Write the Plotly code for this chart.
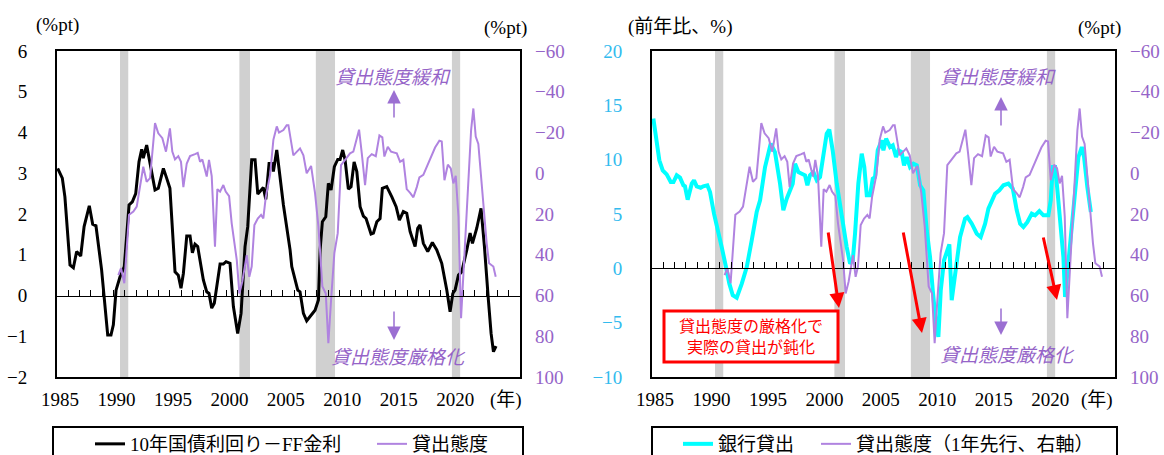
import plotly.graph_objects as go

FONT = "Liberation Serif, Noto Sans CJK JP"
PURPLE_LINE = "#B083E0"
PURPLE_TXT = "#9564C8"
CYAN = "#00FFFF"
CYAN_TXT = "#33BBEE"

# ---- data (decimal years) ----
spread_x = [1985.06, 1985.47, 1985.70, 1986.15, 1986.45, 1986.74, 1987.10, 1987.40, 1987.86, 1988.16,
            1988.45, 1988.95, 1989.49, 1989.78, 1989.99, 1990.23, 1990.58, 1990.96, 1991.38, 1991.67,
            1991.97, 1992.26, 1992.50, 1992.64, 1992.94, 1993.17, 1993.68, 1993.97, 1994.42, 1994.71,
            1995.00, 1995.45, 1995.74, 1995.98, 1996.19, 1996.49, 1996.78, 1996.99, 1997.22, 1997.46,
            1997.96, 1998.26, 1998.46, 1998.70, 1998.93, 1999.44, 1999.73, 1999.97, 2000.32, 2000.62,
            2001.00, 2001.30, 2001.65, 2001.89, 2002.24, 2002.54, 2002.78, 2003.27, 2003.49, 2003.78,
            2004.07, 2004.16, 2004.46, 2005.05, 2005.64, 2005.79, 2006.08, 2006.32, 2006.52, 2006.82,
            2007.11, 2007.41, 2007.85, 2008.15, 2008.30, 2008.50, 2008.80, 2009.03, 2009.27, 2009.56,
            2009.86, 2010.07, 2010.30, 2010.51, 2010.80, 2011.04, 2011.31, 2011.55, 2011.84, 2012.13,
            2012.37, 2012.81, 2013.02, 2013.32, 2013.61, 2013.81, 2014.20, 2014.65, 2015.03, 2015.32,
            2015.67, 2015.97, 2016.27, 2016.71, 2016.94, 2017.15, 2017.44, 2017.83, 2018.24, 2018.63,
            2019.07, 2019.52, 2019.81, 2020.05, 2020.25, 2020.55, 2020.84, 2021.29, 2021.58, 2021.79,
            2022.17, 2022.55, 2022.85, 2023.20, 2023.44, 2023.65, 2023.88]
spread_y = [3.12, 2.88, 2.42, 0.75, 0.68, 1.08, 0.97, 1.69, 2.20, 1.75,
            1.71, 0.63, -0.97, -0.97, -0.72, 0.13, 0.46, 0.71, 2.22, 2.30,
            2.50, 3.28, 3.59, 3.37, 3.69, 3.37, 2.59, 2.63, 3.12, 2.88,
            2.63, 0.58, 0.50, 0.18, 0.54, 1.46, 1.46, 1.05, 1.26, 1.20,
            0.38, 0.09, 0.05, -0.31, -0.19, 0.77, 0.77, 0.83, 0.79, -0.27,
            -0.93, -0.44, 1.20, 1.69, 3.33, 3.33, 2.49, 2.65, 2.36, 3.24,
            3.24, 3.04, 3.57, 2.22, 1.12, 0.71, 0.38, 0.13, 0.09, -0.44,
            -0.62, -0.52, -0.36, -0.11, 1.12, 1.81, 1.93, 2.75, 2.59, 3.16,
            3.34, 3.34, 3.57, 3.33, 2.61, 2.67, 3.28, 3.04, 2.18, 1.95,
            1.89, 1.51, 1.53, 1.81, 1.89, 2.63, 2.67, 2.42, 2.18, 1.85,
            2.06, 2.02, 1.57, 1.20, 1.65, 1.73, 1.28, 1.08, 1.30, 1.12,
            0.79, 0.13, -0.40, 0.05, 0.13, 0.50, 0.58, 1.12, 1.53, 1.28,
            1.65, 2.14, 1.20, -0.11, -0.93, -1.38, -1.24]

lending_x = [1990.43, 1990.67, 1990.96, 1991.17, 1991.38, 1991.76, 1992.06, 1992.35, 1992.64, 1992.94,
             1993.24, 1993.68, 1993.97, 1994.33, 1994.65, 1995.00, 1995.21, 1995.45, 1995.74, 1995.98,
             1996.19, 1996.49, 1996.78, 1997.22, 1997.46, 1997.67, 1997.87, 1998.26, 1998.46, 1998.70,
             1998.99, 1999.20, 1999.44, 1999.73, 1999.94, 2000.24, 2000.47, 2000.92, 2001.15, 2001.41,
             2001.80, 2002.03, 2002.24, 2002.48, 2002.78, 2003.07, 2003.27, 2003.49, 2003.87, 2004.16,
             2004.46, 2004.66, 2005.05, 2005.34, 2005.49, 2005.93, 2006.52, 2006.82, 2007.11, 2007.50,
             2007.85, 2008.15, 2008.50, 2008.80, 2009.03, 2009.27, 2009.56, 2009.86, 2010.15, 2010.51,
             2010.95, 2011.24, 2011.75, 2011.99, 2012.28, 2012.52, 2012.87, 2013.23, 2013.55, 2013.81,
             2013.99, 2014.29, 2014.58, 2015.09, 2015.38, 2015.67, 2015.97, 2016.27, 2016.56, 2016.86,
             2017.09, 2017.44, 2017.74, 2018.13, 2018.48, 2018.86, 2019.07, 2019.31, 2019.61, 2019.87,
             2020.10, 2020.31, 2020.55, 2020.78, 2021.08, 2021.37, 2021.67, 2021.87, 2022.08, 2022.31,
             2022.61, 2023.05, 2023.26, 2023.64, 2023.85]
lending_y = [50, 46.6, 54, 34.4, 20.4, 18.8, 16.4, 6.6, -3.2, 4.2,
             2.4, -24.6, -19.6, -17.2, -10.6, -22, -10.6, -6.8, -8.4, -5.6,
             6.8, -4.8, -8.4, -9.4, -10, -5.6, -6.8, 1.6, -6.6, 1.4,
             36, 7.8, 9, 5.8, 9, 11.2, 24.6, 42.6, 59, 53.2,
             40.2, 50.8, 45.8, 25.4, 22.2, 20.4, 22.2, 11.6, 0.8, -16.4,
             -23, -20, -21.2, -23.6, -23.6, -8.8, -12.2, -8.8, 0, -3.6,
             9.8, 26.2, 55.6, 59, 83.4, 62.2, 39.2, 29.4, -4, -6.6,
             -9.8, -10.6, -21.4, -9.8, 5.8, -7.4, -9.4, -8.4, -18.6, -17.6,
             -8.2, -13, -10.6, -9.8, -5.6, -6.6, 7.8, 9.6, 11.8, 6.8,
             2, 0.8, -3.2, -8.8, -12.6, -16, -15.6, 3.4, -4.2, -2.4,
             5, 1.2, 21.2, 71.2, 39.2, 5, -21.2, -31.8, -18, -14.4,
             6.6, 34.4, 44.2, 45.8, 50.8]
lead_years = 1.0

loans_x = [1985.12, 1985.35, 1985.65, 1985.95, 1986.30, 1986.66, 1986.90, 1987.19, 1987.48, 1987.78,
           1987.92, 1988.16, 1988.52, 1988.72, 1988.96, 1989.31, 1989.54, 1989.90, 1990.14, 1990.49,
           1990.87, 1991.17, 1991.55, 1991.85, 1992.15, 1992.50, 1992.95, 1993.39, 1993.83, 1994.27,
           1994.57, 1995.01, 1995.51, 1995.89, 1996.34, 1996.63, 1996.93, 1997.22, 1997.46, 1997.67,
           1997.96, 1998.26, 1998.55, 1998.76, 1998.99, 1999.29, 1999.59, 1999.88, 2000.17, 2000.47,
           2000.70, 2001.00, 2001.36, 2001.80, 2002.24, 2002.54, 2002.78, 2002.98, 2003.27, 2003.57,
           2003.80, 2004.02, 2004.31, 2004.55, 2004.75, 2004.99, 2005.34, 2005.49, 2005.73, 2006.08,
           2006.32, 2006.61, 2006.82, 2007.11, 2007.32, 2007.56, 2007.85, 2008.15, 2008.45, 2008.74,
           2009.03, 2009.33, 2009.62, 2009.86, 2010.15, 2010.36, 2010.57, 2010.86, 2011.33, 2011.54,
           2011.84, 2012.28, 2012.72, 2012.93, 2013.32, 2013.76, 2014.11, 2014.50, 2014.79, 2015.09,
           2015.38, 2015.76, 2016.12, 2016.56, 2016.95, 2017.30, 2017.60, 2017.89, 2018.24, 2018.63,
           2018.92, 2019.30, 2019.66, 2020.10, 2020.31, 2020.49, 2020.70, 2020.90, 2021.20, 2021.43,
           2021.58, 2021.79, 2022.09, 2022.38, 2022.76, 2023.06, 2023.26, 2023.55, 2023.86]
loans_y = [13.78, 11.78, 9.94, 9.02, 8.65, 7.94, 7.94, 8.56, 8.35, 7.64,
           7.55, 6.32, 7.79, 8.10, 7.55, 7.42, 7.55, 7.64, 7.02, 5.03,
           3.50, 1.96, 0.12, -1.41, -2.48, -2.70, -1.41, 0.12, 2.58, 5.18,
           6.26, 9.32, 11.47, 10.70, 7.79, 5.34, 6.41, 7.18, 7.79, 9.63,
           8.86, 8.71, 8.56, 7.64, 8.56, 8.86, 8.10, 8.40, 10.70, 12.39,
           12.76, 10.86, 7.79, 4.72, 1.96, 0.43, 0.74, 3.19, 7.79, 10.55,
           9.32, 6.72, 6.72, 8.25, 8.40, 10.86, 11.78, 10.86, 11.93, 11.16,
           11.32, 10.24, 10.86, 10.70, 9.48, 10.24, 9.32, 9.63, 9.48, 7.64,
           7.18, 3.50, 1.04, -2.02, -5.09, -6.32, -2.02, 0.74, 2.21, -2.94,
           -0.80, 2.88, 4.57, 4.72, 4.11, 3.19, 2.88, 4.11, 5.49, 6.26,
           6.87, 7.18, 7.64, 7.79, 7.33, 5.34, 4.11, 3.80, 4.26, 5.03,
           4.88, 5.27, 4.88, 4.88, 6.26, 9.32, 9.32, 7.18, 4.11, 1.04,
           -2.64, -0.49, 2.58, 6.26, 10.24, 11.16, 10.24, 7.48, 5.18]

recessions = [(1990.58, 1991.31), (2001.15, 2002.09), (2007.92, 2009.62), (2019.97, 2020.70)]
year_ticks = [1985, 1990, 1995, 2000, 2005, 2010, 2015, 2020]
x_range = [1985, 2026.0]

# ---- geometry helpers (pixel -> paper) ----
W, H = 1164, 455
ML, MR, MT, MB = 57, 49, 51, 78
PW = W - ML - MR
PH = H - MT - MB
def px(X):
    return (X - ML) / PW
def py(Y):
    return (H - MB - Y) / PH

fig = go.Figure()
# invisible helper traces so the zero-line axes are rendered
fig.add_trace(go.Scatter(x=[None], y=[None], xaxis="x3", yaxis="y", showlegend=False, hoverinfo="skip"))
fig.add_trace(go.Scatter(x=[None], y=[None], xaxis="x4", yaxis="y3", showlegend=False, hoverinfo="skip"))

fig.add_trace(go.Scatter(x=spread_x, y=spread_y, mode="lines", name="10年国債利回り－FF金利",
                         line=dict(color="black", width=3), xaxis="x", yaxis="y", legend="legend"))
fig.add_trace(go.Scatter(x=lending_x, y=lending_y, mode="lines", name="貸出態度",
                         line=dict(color=PURPLE_LINE, width=2), xaxis="x", yaxis="y2", legend="legend2"))
fig.add_trace(go.Scatter(x=loans_x, y=loans_y, mode="lines", name="銀行貸出",
                         line=dict(color=CYAN, width=4), xaxis="x2", yaxis="y3", legend="legend3"))
fig.add_trace(go.Scatter(x=[v + lead_years for v in lending_x], y=lending_y, mode="lines",
                         name="貸出態度（1年先行、右軸）",
                         line=dict(color=PURPLE_LINE, width=2), xaxis="x2", yaxis="y4", legend="legend4"))

shapes = []
for xr in ["x", "x2"]:
    yr = "y domain" if xr == "x" else "y3 domain"
    for a, b in recessions:
        shapes.append(dict(type="rect", xref=xr, yref=yr, x0=a, x1=b, y0=0, y1=1,
                           fillcolor="#D0D0D0", line=dict(width=0), layer="below"))
# legend boxes
shapes.append(dict(type="rect", xref="paper", yref="paper", x0=px(53), x1=px(523), y0=py(427), y1=py(470),
                   line=dict(color="black", width=2), fillcolor="rgba(0,0,0,0)"))
shapes.append(dict(type="rect", xref="paper", yref="paper", x0=px(652), x1=px(1117), y0=py(427), y1=py(470),
                   line=dict(color="black", width=2), fillcolor="rgba(0,0,0,0)"))
# red note box
shapes.append(dict(type="rect", xref="paper", yref="paper", x0=px(664), x1=px(838), y0=py(362), y1=py(311),
                   line=dict(color="#FF0000", width=3), fillcolor="white"))

tf = dict(family=FONT, size=19, color="black")
ann = []
def text(X, Y, s, color="black", size=19, italic=False):
    f = dict(family=FONT, size=size, color=color)
    if italic:
        f["style"] = "italic"
    ann.append(dict(x=px(X), y=py(Y), xref="paper", yref="paper", text=s, showarrow=False,
                    font=f, xanchor="center", yanchor="middle"))
def arrow(Xh, Yh, Xt, Yt, color, width, size):
    ann.append(dict(x=px(Xh), y=py(Yh), xref="paper", yref="paper", text="", showarrow=True,
                    ax=Xt - Xh, ay=Yt - Yh, arrowcolor=color, arrowwidth=width, arrowhead=2,
                    arrowsize=size, standoff=0, startstandoff=0))

text(57, 25, "(%pt)")
text(505, 28, "(%pt)")
text(680, 27, "(前年比、%)")
text(1099, 28, "(%pt)")
text(506, 400, "(年)")
text(1097, 400, "(年)")
text(393, 77, "貸出態度緩和", PURPLE_TXT, 19, True)
text(398, 357, "貸出態度厳格化", PURPLE_TXT, 19, True)
text(998, 77, "貸出態度緩和", PURPLE_TXT, 19, True)
text(1007, 355, "貸出態度厳格化", PURPLE_TXT, 19, True)
arrow(394, 90, 394, 119, "#9B6FD2", 1.5, 1.8)
arrow(394, 340, 394, 310, "#9B6FD2", 1.5, 1.8)
arrow(1001, 97, 1001, 127, "#9B6FD2", 1.5, 1.8)
arrow(1001, 335, 1001, 307, "#9B6FD2", 1.5, 1.8)
ann.append(dict(x=px(751), y=py(337), xref="paper", yref="paper", showarrow=False,
                text="貸出態度の厳格化で<br>実際の貸出が鈍化",
                font=dict(family=FONT, size=16, color="#FF0000"), xanchor="center", yanchor="middle"))
arrow(839, 308, 828, 231, "#FF0000", 3, 1)
arrow(922, 333, 903, 231, "#FF0000", 3, 1)
arrow(1057, 300, 1043, 236, "#FF0000", 3, 1)

frame = dict(showline=True, linecolor="black", linewidth=2, mirror=True, showgrid=False, zeroline=False)

def leg(X):
    return dict(x=px(X), y=py(444), xref="paper", yref="paper", xanchor="left", yanchor="middle",
                bgcolor="rgba(0,0,0,0)", borderwidth=0, font=tf)

fig.update_layout(
    width=W, height=H, margin=dict(l=ML, r=MR, t=MT, b=MB, autoexpand=False),
    paper_bgcolor="white", plot_bgcolor="white", showlegend=True,
    xaxis=dict(domain=[0, px(520)], range=x_range, anchor="y", tickvals=year_ticks, ticks="",
               tickfont=tf, ticklabelshift=3, ticklabelstandoff=4, **frame),
    yaxis=dict(domain=[0, 1], range=[-2, 6], dtick=1, anchor="x", ticks="", tickfont=tf,
               ticklabelstandoff=24, **frame),
    yaxis2=dict(overlaying="y", side="right", anchor="x", range=[100, -60], dtick=20, ticks="",
                tickfont=dict(family=FONT, size=19, color=PURPLE_TXT), showgrid=False, zeroline=False,
                showline=False, ticklabelstandoff=14),
    xaxis2=dict(domain=[px(652), 1], range=x_range, anchor="y3", tickvals=year_ticks, ticks="",
                tickfont=tf, ticklabelshift=3, ticklabelstandoff=4, **frame),
    yaxis3=dict(domain=[0, 1], range=[-10, 20], dtick=5, anchor="x2", ticks="",
                tickfont=dict(family=FONT, size=19, color=CYAN_TXT), ticklabelstandoff=24, **frame),
    yaxis4=dict(overlaying="y3", side="right", anchor="x2", range=[100, -60], dtick=20, ticks="",
                tickfont=dict(family=FONT, size=19, color=PURPLE_TXT), showgrid=False, zeroline=False,
                showline=False, ticklabelstandoff=14),
    xaxis3=dict(overlaying="x", anchor="free", position=0.25, range=x_range, dtick=1, tick0=1985,
                ticks="inside", ticklen=6, tickcolor="black", showline=True, linecolor="black",
                linewidth=1, showticklabels=False, showgrid=False, zeroline=False, side="bottom"),
    xaxis4=dict(overlaying="x2", anchor="free", position=1/3, range=x_range, dtick=1, tick0=1985,
                ticks="inside", ticklen=6, tickcolor="black", showline=True, linecolor="black",
                linewidth=1, showticklabels=False, showgrid=False, zeroline=False, side="bottom"),
    legend=leg(90), legend2=leg(372), legend3=leg(678), legend4=leg(816),
    shapes=shapes, annotations=ann,
)

fig.write_html("out.html", config={"displayModeBar": False},
               post_script="document.body.style.margin='0';document.body.style.overflow='hidden';")
